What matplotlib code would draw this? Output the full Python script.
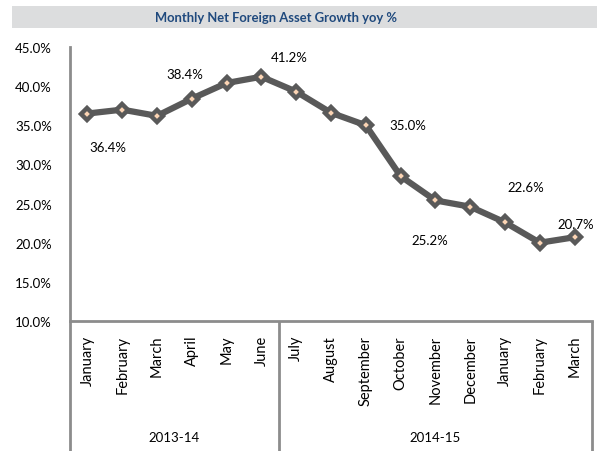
import matplotlib
matplotlib.use("Agg")
import matplotlib.pyplot as plt
from matplotlib.patches import Rectangle

months = ["January", "February", "March", "April", "May", "June",
          "July", "August", "September", "October", "November", "December",
          "January", "February", "March"]
values = [36.5, 37.0, 36.2, 38.4, 40.4, 41.2, 39.3, 36.6, 35.0, 28.5, 25.4, 24.6, 22.6, 20.0, 20.7]
label_text = {0: "36.4%", 3: "38.4%", 5: "41.2%", 8: "35.0%", 10: "25.2%", 12: "22.6%", 14: "20.7%"}
years = ["2013-14", "2014-15"]
year_sizes = [6, 9]
title = "Monthly Net Foreign Asset Growth yoy %"
yticks = [10, 15, 20, 25, 30, 35, 40, 45]

plt.rcParams['font.family'] = ['Lato', 'DejaVu Sans']

W, H = 597, 452
fig = plt.figure(figsize=(W / 100, H / 100), dpi=100)

# title band
fig.patches.append(Rectangle((12 / W, (H - 29) / H), 590 / W, 22 / H,
                             transform=fig.transFigure, facecolor="#DCDDDE",
                             edgecolor="none", zorder=0))
fig.text(276 / W, (H - 18) / H, title, ha="center", va="center",
         fontsize=9.4, fontweight="bold", color="#1F497D")

ax = fig.add_axes([70 / W, 130 / H, 522 / W, 274 / H])
x = list(range(len(values)))
ax.plot(x, values, color="#595959", lw=4.5, zorder=3, solid_joinstyle="round")
ax.plot(x, values, ls="none", marker="D", ms=6, mfc="#FBD4B4",
        mec="#595959", mew=3.2, zorder=4)

ax.set_xlim(-0.5, len(values) - 0.5)
ax.set_ylim(10, 45)
ax.set_yticks(yticks)
ax.set_yticklabels([f"{v:.1f}%" for v in yticks], fontsize=9.5, color="#000000")
ax.tick_params(axis="y", length=0, pad=13)

ax.set_xticks(x)
ax.set_xticklabels(months, rotation=90, fontsize=10.5, va="top")
ax.tick_params(axis="x", length=0, pad=10)

for s in ["top", "right"]:
    ax.spines[s].set_visible(False)
spcol = "#8C8C8C"
ax.spines["left"].set_color(spcol)
ax.spines["left"].set_linewidth(2)
ax.spines["bottom"].set_color(spcol)
ax.spines["bottom"].set_linewidth(2)

# category group lines below the axis
trans = ax.get_xaxis_transform()
ext = -130 / 274
bounds = [-0.5]
acc = -0.5
for n in year_sizes:
    acc += n
    bounds.append(acc)
for b in bounds:
    ax.plot([b, b], [0, ext], transform=trans, color=spcol, lw=2, clip_on=False,
            solid_capstyle="butt")
for i, yl in enumerate(years):
    cx = (bounds[i] + bounds[i + 1]) / 2
    ax.text(cx, -116 / 274, yl, transform=trans, ha="center", va="center",
            fontsize=9.5)

# data labels (offsets in pixels)
offsets = {0: (20, -33), 3: (-7, 25), 5: (28, 20), 8: (42, 0), 10: (-6, -40),
           12: (21, 35), 14: (1, 13)}
for i, t in label_text.items():
    dx, dy = offsets[i]
    ax.annotate(t, (x[i], values[i]), xytext=(dx * 0.72, dy * 0.72),
                textcoords="offset points", ha="center", va="center", fontsize=9.5)

fig.savefig("out.png", dpi=100)
